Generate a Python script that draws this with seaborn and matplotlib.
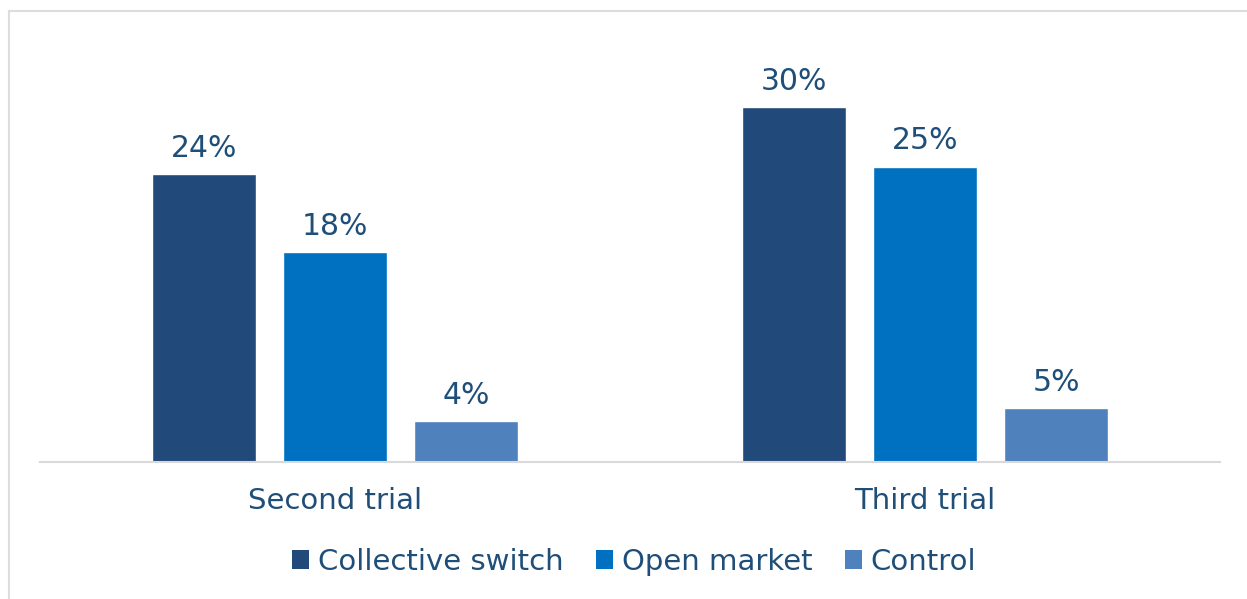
import pandas as pd
import matplotlib.pyplot as plt
import seaborn as sns
from matplotlib.patches import Patch
from matplotlib.lines import Line2D

# values (percent)
trials = ["Second trial", "Third trial"]
groups = ["Collective switch", "Open market", "Control"]
collective = [24.4, 30.0]
open_market = [17.8, 25.0]
control = [3.5, 4.6]
labels = {"Collective switch": ["24%", "30%"],
          "Open market": ["18%", "25%"],
          "Control": ["4%", "5%"]}
colors = ["#21497A", "#0070C0", "#4F81BD"]
text_color = "#1F4E79"

data = pd.DataFrame({
    "trial": trials * 3,
    "group": [g for g in groups for _ in trials],
    "value": collective + open_market + control,
})

sns.set_style("white")
plt.rcParams["font.family"] = ["DejaVu Sans"]

fig = plt.figure(figsize=(12.47, 5.99), dpi=100)
ax = fig.add_axes([40 / 1247, 137 / 599, 1180 / 1247, 390 / 599])

sns.barplot(data=data, x="trial", y="value", hue="group", hue_order=groups,
            palette=colors, width=0.666, gap=0.21, saturation=1,
            legend=False, ax=ax)

for cont, g in zip(ax.containers, groups):
    ax.bar_label(cont, labels=labels[g], padding=8, fontsize=21.5, color=text_color)

ax.set_xlim(-0.5, 1.5)
ax.set_ylim(0, 33)
ax.set_xlabel("")
ax.set_ylabel("")
ax.set_yticks([])
ax.tick_params(axis="x", length=0, pad=18, labelsize=21, labelcolor=text_color)
for s in ["top", "right", "left"]:
    ax.spines[s].set_visible(False)
ax.spines["bottom"].set_color("#D9D9D9")
ax.spines["bottom"].set_linewidth(1.5)

# legend
handles = [Patch(facecolor=c, edgecolor="none", label=g) for c, g in zip(colors, groups)]
fig.legend(handles=handles, loc="center", bbox_to_anchor=(634 / 1247, 1 - 562 / 599),
           ncol=3, frameon=False, fontsize=21, labelcolor=text_color,
           handlelength=0.6, handleheight=0.6, handletextpad=0.3, columnspacing=1.1)

# outer frame (top and left edges visible)
fig.add_artist(Line2D([9 / 1247, 1], [1 - 11 / 599] * 2, color="#DDDDDD", lw=1.5))
fig.add_artist(Line2D([9 / 1247] * 2, [0, 1 - 11 / 599], color="#DDDDDD", lw=1.5))

fig.savefig("out.png", dpi=100)
